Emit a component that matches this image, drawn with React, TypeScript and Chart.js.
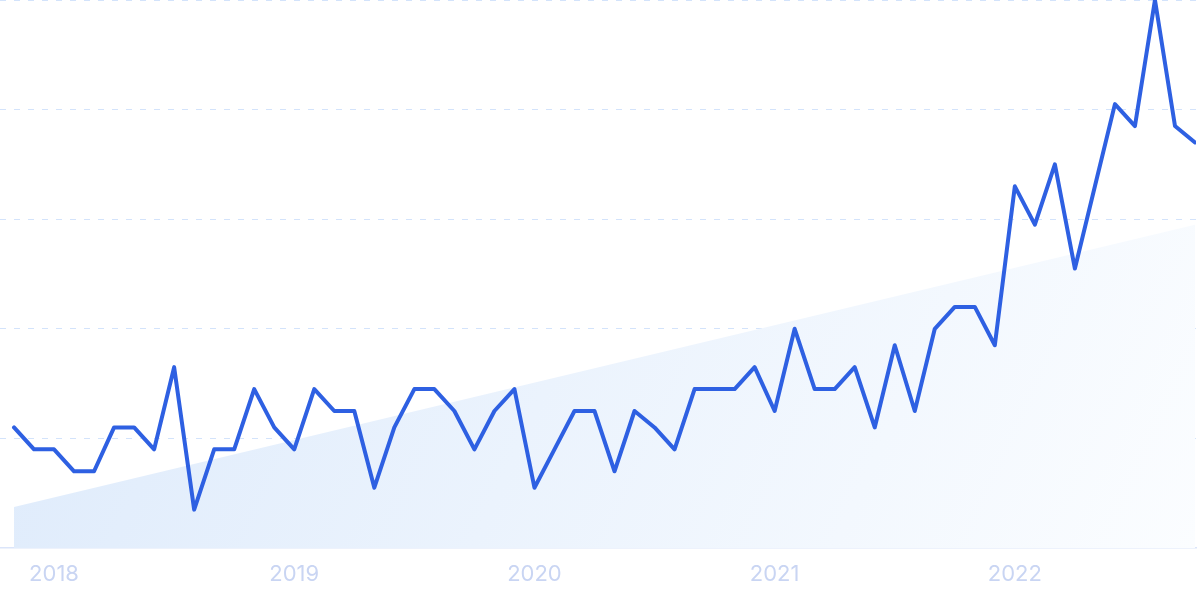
import { useEffect, useRef } from 'react';
import { Chart, registerables } from 'chart.js';

Chart.register(...registerables);

// monthly search interest, Nov 2017 - Oct 2022
const interest = [
  22, 18, 18, 14, 14, 22, 22, 18, 33, 7, 18, 18,
  29, 22, 18, 29, 25, 25, 11, 22, 29, 29, 25, 18,
  25, 29, 11, 18, 25, 25, 14, 25, 22, 18, 29, 29,
  29, 33, 25, 40, 29, 29, 33, 22, 37, 25, 40, 44,
  44, 37, 66, 59, 70, 51, 66, 81, 77, 100, 77, 74,
];
const trendX = [0, 59];
const trendY = [7.5, 59];
const yearTicks = [2, 14, 26, 38, 50];
const yearLabels = ['2018', '2019', '2020', '2021', '2022'];

export default function App() {
  const chartRef = useRef<HTMLCanvasElement | null>(null);

  useEffect(() => {
    if (!chartRef.current) return;
    const ctx = chartRef.current.getContext('2d');
    if (!ctx) return;

    const chartInstance = new Chart(ctx, {
      type: 'line',
      data: {
        datasets: [
          {
            label: 'Interest',
            data: interest.map((v, i) => ({ x: i, y: v })),
            borderColor: '#2e60e2',
            borderWidth: 4,
            borderJoinStyle: 'round',
            borderCapStyle: 'round',
            pointRadius: 0,
            tension: 0,
            fill: false,
          },
          {
            label: 'Trend',
            data: trendX.map((x, i) => ({ x, y: trendY[i] })),
            borderWidth: 0,
            pointRadius: 0,
            fill: 'origin',
            backgroundColor: (c: any) => {
              const { chartArea, ctx: g } = c.chart;
              if (!chartArea) return 'rgba(222,235,251,1)';
              const grad = g.createLinearGradient(chartArea.left, chartArea.top, chartArea.right, chartArea.bottom);
              grad.addColorStop(0, 'rgba(219,233,251,1)');
              grad.addColorStop(1, 'rgba(251,253,255,1)');
              return grad;
            },
          },
        ],
      },
      options: {
        animation: false,
        responsive: true,
        maintainAspectRatio: false,
        layout: { padding: { left: 0, right: 4, top: 0, bottom: 0 } },
        plugins: {
          legend: { display: false },
          tooltip: { enabled: false },
        },
        scales: {
          x: {
            type: 'linear',
            min: -0.7,
            max: 59.05,
            grid: { display: false, drawTicks: false },
            border: { display: true, color: '#dbe5fa', width: 1.5 },
            afterBuildTicks: (axis: any) => {
              axis.ticks = yearTicks.map((v) => ({ value: v }));
            },
            afterFit: (axis: any) => {
              axis.height = 51;
            },
            ticks: {
              padding: 13,
              maxRotation: 0,
              autoSkip: false,
              color: '#c9d5f3',
              font: { family: 'Inter', size: 22 },
              callback: (v: any) => yearLabels[yearTicks.indexOf(Number(v))] ?? '',
            },
          },
          y: {
            min: 0,
            max: 100,
            afterFit: (axis: any) => {
              axis.width = 0;
            },
            ticks: { display: false, stepSize: 20 },
            grid: {
              drawTicks: false,
              color: (c: any) => (c.tick && c.tick.value === 0 ? 'rgba(0,0,0,0)' : '#d3e3fb'),
              lineWidth: 1,
            },
            border: { display: false, dash: [6, 8] },
          },
        },
      },
    });

    return () => chartInstance.destroy();
  }, []);

  return (
    <div style={{ position: 'absolute', left: 0, top: 0, width: 1200, height: 599 }}>
      <canvas ref={chartRef}></canvas>
    </div>
  );
}
